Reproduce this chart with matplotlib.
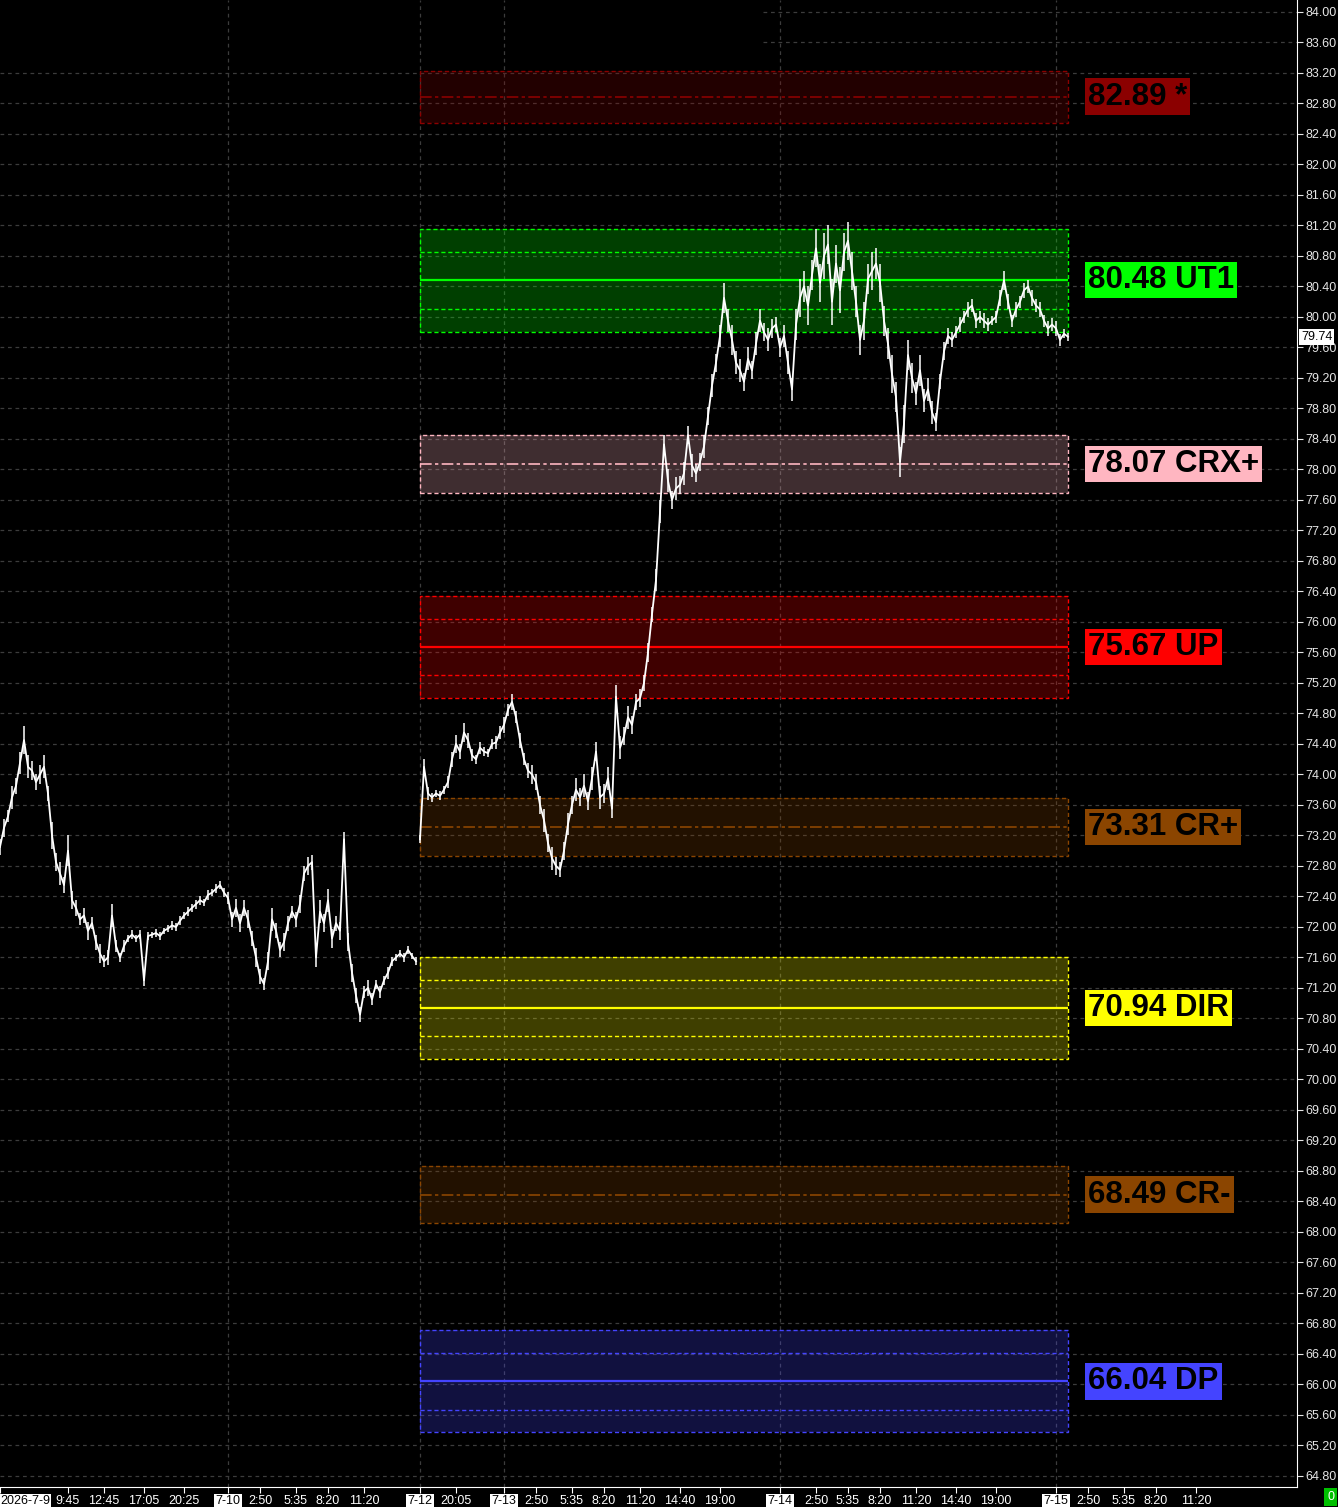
import numpy as np
import matplotlib
matplotlib.use("Agg")
import matplotlib.pyplot as plt
import matplotlib.transforms as mtransforms
from matplotlib.patches import Rectangle

# ==================== DATA ====================
# closes, one per bar, session 7-9 .. 7-10
close_before_gap = [
    73.05, 73.30, 73.45, 73.70, 73.85, 74.15, 74.45, 74.10, 74.05, 73.90,
    74.00, 74.10, 73.75, 73.20, 72.85, 72.70, 72.55, 73.00, 72.35, 72.25,
    72.10, 72.15, 71.95, 72.05, 71.80, 71.65, 71.55, 71.60, 72.15, 71.75,
    71.60, 71.75, 71.85, 71.90, 71.85, 71.90, 71.30, 71.88, 71.90, 71.92,
    71.88, 71.95, 71.98, 72.02, 72.00, 72.08, 72.15, 72.20, 72.25, 72.30,
    72.35, 72.32, 72.42, 72.45, 72.50, 72.55, 72.45, 72.38, 72.10, 72.25,
    72.05, 72.25, 72.10, 71.85, 71.60, 71.35, 71.25, 71.55, 72.10, 71.95,
    71.70, 71.80, 72.05, 72.20, 72.10, 72.30, 72.70, 72.80, 72.85, 71.60,
    72.20, 72.05, 72.35, 71.85, 72.05, 71.95, 73.15, 71.80, 71.40, 71.10,
    70.85, 71.15, 71.20, 71.05, 71.25, 71.15, 71.30, 71.40, 71.55, 71.60,
    71.65, 71.60, 71.70, 71.62, 71.55,
]
# half of each bar's high-low range
half_range_before_gap = [
    0.10, 0.12, 0.08, 0.15, 0.10, 0.14, 0.18, 0.15, 0.12, 0.10,
    0.12, 0.15, 0.10, 0.18, 0.12, 0.15, 0.10, 0.20, 0.12, 0.10,
    0.08, 0.10, 0.12, 0.08, 0.10, 0.12, 0.08, 0.10, 0.15, 0.08,
    0.06, 0.08, 0.05, 0.06, 0.05, 0.06, 0.08, 0.05, 0.04, 0.05,
    0.05, 0.04, 0.05, 0.06, 0.05, 0.06, 0.05, 0.06, 0.05, 0.06,
    0.06, 0.05, 0.06, 0.05, 0.06, 0.05, 0.06, 0.08, 0.10, 0.12,
    0.12, 0.10, 0.12, 0.10, 0.12, 0.10, 0.08, 0.12, 0.15, 0.10,
    0.10, 0.12, 0.10, 0.08, 0.10, 0.12, 0.10, 0.12, 0.10, 0.12,
    0.15, 0.12, 0.15, 0.12, 0.10, 0.12, 0.10, 0.12, 0.12, 0.10,
    0.10, 0.08, 0.10, 0.08, 0.06, 0.08, 0.06, 0.08, 0.06, 0.05,
    0.05, 0.06, 0.05, 0.04, 0.05,
]
# closes, session 7-12 .. 7-15
close_after_gap = [
    73.15, 74.10, 73.75, 73.70, 73.75, 73.72, 73.80, 73.90, 74.20, 74.40,
    74.30, 74.55, 74.45, 74.25, 74.20, 74.35, 74.30, 74.28, 74.40, 74.42,
    74.55, 74.65, 74.85, 74.95, 74.75, 74.45, 74.20, 74.05, 74.00, 73.90,
    73.60, 73.40, 73.10, 72.90, 72.80, 72.75, 73.00, 73.35, 73.60, 73.80,
    73.70, 73.85, 73.65, 73.95, 74.30, 73.70, 73.75, 73.95, 73.55, 75.02,
    74.35, 74.50, 74.75, 74.65, 74.95, 75.00, 75.20, 75.60, 76.10, 76.55,
    77.45, 78.33, 77.85, 77.60, 77.75, 77.80, 77.95, 78.45, 78.05, 77.95,
    78.10, 78.30, 78.70, 79.10, 79.40, 79.75, 80.25, 79.95, 79.70, 79.40,
    79.30, 79.15, 79.45, 79.30, 79.65, 79.95, 79.80, 79.70, 79.85, 79.90,
    79.60, 79.75, 79.40, 79.05, 79.90, 80.25, 80.40, 80.15, 80.55, 80.90,
    80.45, 80.80, 80.95, 80.20, 80.70, 80.35, 80.85, 81.00, 80.60, 80.20,
    79.70, 79.95, 80.50, 80.60, 80.70, 80.45, 79.95, 79.65, 79.25, 78.95,
    78.10, 78.60, 79.50, 79.20, 79.00, 79.30, 78.90, 79.05, 78.75, 78.62,
    79.15, 79.55, 79.75, 79.70, 79.80, 79.90, 80.00, 80.10, 80.15, 79.95,
    80.00, 79.95, 79.90, 79.95, 80.00, 80.25, 80.48, 80.20, 79.95, 80.10,
    80.20, 80.35, 80.40, 80.25, 80.15, 80.10, 79.95, 79.85, 79.90, 79.85,
    79.70, 79.78, 79.74,
]
half_range_after_gap = [
    0.05, 0.10, 0.08, 0.06, 0.05, 0.06, 0.05, 0.08, 0.10, 0.12,
    0.10, 0.12, 0.10, 0.08, 0.06, 0.08, 0.06, 0.05, 0.06, 0.08,
    0.08, 0.10, 0.08, 0.10, 0.08, 0.10, 0.08, 0.10, 0.12, 0.10,
    0.12, 0.15, 0.12, 0.15, 0.12, 0.10, 0.12, 0.15, 0.12, 0.15,
    0.12, 0.15, 0.12, 0.15, 0.12, 0.15, 0.12, 0.15, 0.12, 0.15,
    0.15, 0.12, 0.15, 0.12, 0.10, 0.12, 0.10, 0.12, 0.10, 0.15,
    0.15, 0.12, 0.15, 0.12, 0.15, 0.12, 0.15, 0.12, 0.15, 0.12,
    0.12, 0.15, 0.12, 0.15, 0.12, 0.15, 0.20, 0.15, 0.20, 0.15,
    0.15, 0.12, 0.15, 0.12, 0.15, 0.15, 0.12, 0.15, 0.12, 0.10,
    0.12, 0.15, 0.15, 0.15, 0.20, 0.25, 0.20, 0.25, 0.20, 0.25,
    0.25, 0.30, 0.25, 0.30, 0.25, 0.30, 0.25, 0.25, 0.25, 0.20,
    0.20, 0.25, 0.20, 0.25, 0.20, 0.25, 0.20, 0.20, 0.25, 0.20,
    0.20, 0.25, 0.20, 0.20, 0.15, 0.20, 0.15, 0.15, 0.15, 0.12,
    0.10, 0.12, 0.10, 0.10, 0.08, 0.10, 0.08, 0.10, 0.08, 0.10,
    0.08, 0.10, 0.08, 0.06, 0.08, 0.10, 0.12, 0.10, 0.08, 0.10,
    0.08, 0.10, 0.08, 0.10, 0.08, 0.10, 0.08, 0.10, 0.08, 0.10,
    0.08, 0.06, 0.05,
]
last_price = 79.74

# key levels
zone_level = [82.89, 80.48, 78.07, 75.67, 73.31, 70.94, 68.49, 66.04]
zone_tag = ["*", "UT1", "CRX+", "UP", "CR+", "DIR", "CR-", "DP"]
zone_color = ["#8b0000", "#00ff00", "#ffb6c1", "#ff0000",
              "#8b4500", "#ffff00", "#8b4500", "#4444ff"]
zone_half = [0.34, 0.68, 0.38, 0.67, 0.38, 0.67, 0.37, 0.67]
zone_major = [False, True, False, True, False, True, False, True]
inner_offset = 0.37

# time axis
tick_bar = [0, 17, 26, 36, 46, 57, 65, 74, 82, 91,
            105, 114, 126, 134, 143, 151, 160, 170, 180,
            195, 204, 212, 220, 229, 239, 249,
            264, 272, 281, 289, 299]
tick_text = ["2026-7-9", "9:45", "12:45", "17:05", "20:25", "7-10", "2:50", "5:35", "8:20", "11:20",
             "7-12", "20:05", "7-13", "2:50", "5:35", "8:20", "11:20", "14:40", "19:00",
             "7-14", "2:50", "5:35", "8:20", "11:20", "14:40", "19:00",
             "7-15", "2:50", "5:35", "8:20", "11:20"]

price_ticks = np.round(np.arange(64.8, 84.01, 0.4), 2)

FONT = ["Liberation Sans", "DejaVu Sans"]

# ==================== FIGURE ====================
W, H = 1338, 1507
fig = plt.figure(figsize=(W / 100, H / 100), dpi=100, facecolor="black")
ax = fig.add_axes([0, 20 / H, 1297 / W, 1487 / H])
ax.set_facecolor("black")
ax.set_xlim(0, 324.25)
ax.set_ylim(64.655, 84.157)

# grid (top-left corner has no horizontal grid in the original)
grid_kw = dict(color="#3c3c3c", lw=0.9, ls=(0, (3, 3)), zorder=1)
for lv in price_ticks:
    ax.hlines(lv, 190.75 if lv > 83.3 else 0, 324.25, **grid_kw)
for b, t in zip(tick_bar, tick_text):
    if "-" in t and b > 0:
        ax.axvline(b, **grid_kw)

# price line + bar ranges
n_a = len(close_before_gap)
x_a = np.arange(n_a)
x_b = np.arange(n_a, n_a + len(close_after_gap))
for x, c, r in [(x_a, close_before_gap, half_range_before_gap),
                (x_b, close_after_gap, half_range_after_gap)]:
    c = np.asarray(c)
    r = np.asarray(r)
    ax.vlines(x, c - r, c + r, color="white", lw=1.1, zorder=5)
    ax.plot(x, c, color="white", lw=1.3, zorder=5)

# zones
x0, x1 = x_b[0], x_b[-1]
for lv, tag, col, hw, major in zip(zone_level, zone_tag, zone_color, zone_half, zone_major):
    ax.fill_between([x0, x1], lv - hw, lv + hw, color=col, alpha=0.25, lw=0, zorder=2)
    ax.add_patch(Rectangle((x0, lv - hw), x1 - x0, 2 * hw, fill=False, ec=col,
                           lw=1.0, ls=(0, (3, 2)), zorder=3))
    if major:
        ax.hlines(lv, x0, x1, color=col, lw=1.6, zorder=3)
        ax.hlines([lv - inner_offset, lv + inner_offset], x0, x1, color=col,
                  lw=1.0, ls=(0, (3, 2)), zorder=3)
    else:
        ax.hlines(lv, x0, x1, color=col, lw=1.2, ls=(0, (7, 2, 2, 2)), zorder=3)
    ax.text(x1 + 5, lv, f"{lv:.2f} {tag}", ha="left", va="center",
            fontsize=22.5, fontweight="bold", family=FONT,
            color="black", zorder=6,
            bbox=dict(boxstyle="square,pad=0.1", fc=col, ec="none"))

# axes styling
for s in ["left", "top"]:
    ax.spines[s].set_visible(False)
ax.spines["right"].set_color("white")
ax.spines["bottom"].set_color("white")

ax.yaxis.tick_right()
ax.set_yticks(price_ticks)
ax.set_yticklabels([f"{v:.2f}" for v in price_ticks])
ax.tick_params(axis="y", colors="#e6e6e6", labelsize=9, length=4, pad=2)

ax.set_xticks(tick_bar)
ax.set_xticklabels(tick_text)
ax.tick_params(axis="x", colors="white", labelsize=9, length=4, pad=2)
for lab in ax.get_xticklabels():
    lab.set_family(FONT)
    if "-" in lab.get_text():
        lab.set_color("black")
        lab.set_bbox(dict(fc="white", ec="none", pad=1))
ax.get_xticklabels()[0].set_ha("left")
for lab in ax.get_yticklabels():
    lab.set_family(FONT)

# last price tag on the price scale
trans = mtransforms.blended_transform_factory(ax.transAxes, ax.transData)
ax.text(1.0 + 4 / 1297, last_price, f"{last_price:.2f}", transform=trans,
        ha="left", va="center", fontsize=9, color="black", clip_on=False, zorder=7,
        family=FONT, bbox=dict(boxstyle="square,pad=0.15", fc="white", ec="none"))

fig.text(1 - 4 / W, 4 / H, "0", ha="right", va="bottom", fontsize=9, color="white",
         family=FONT, bbox=dict(boxstyle="square,pad=0.25", fc="#00c000", ec="none"))

fig.savefig("out.png", dpi=100, facecolor="black")
